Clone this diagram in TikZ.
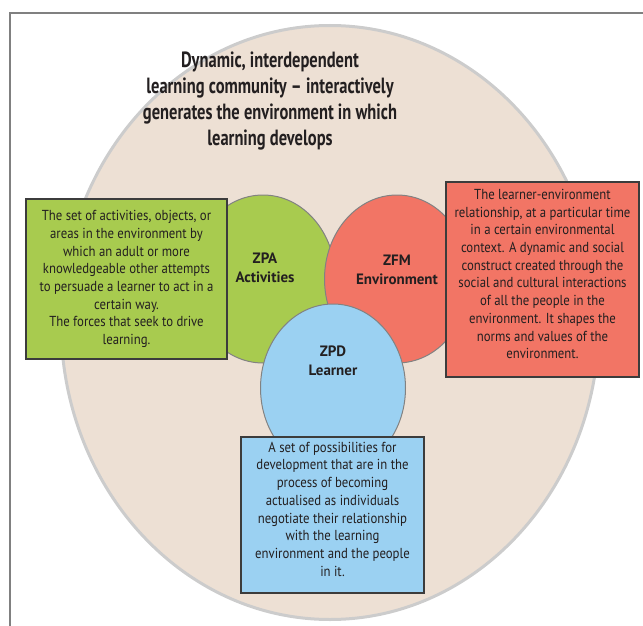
\documentclass[tikz,border=0pt]{standalone}
\usepackage{fontspec}
\setmainfont{PT Sans}
\newfontfamily\titlefont[FakeStretch=0.75]{PT Sans}
\newfontfamily\bodyfont[FakeStretch=0.88]{PT Sans}
\usetikzlibrary{shapes.geometric}
\definecolor{framegray}{RGB}{128,128,128}
\definecolor{bigfill}{RGB}{237,224,212}
\definecolor{bigline}{RGB}{204,204,204}
\definecolor{zpagreen}{RGB}{168,203,79}
\definecolor{zfmred}{RGB}{242,117,101}
\definecolor{zpdblue}{RGB}{155,209,242}
\definecolor{inktext}{RGB}{35,31,32}
\definecolor{boxline}{RGB}{60,60,60}
\definecolor{circline}{RGB}{130,130,130}
\tikzset{
  zone/.style={ellipse, draw=circline, line width=1pt, inner sep=0pt,
    minimum width=145pt, minimum height=168pt},
  infobox/.style={rectangle, draw=boxline, line width=1.3pt, inner sep=0pt,
    align=center, text=inktext, font=\bodyfont\fontsize{14.5}{17.7}\selectfont},
  zonelabel/.style={align=center, text=inktext,
    font=\bfseries\fontsize{15}{19}\selectfont},
}
\begin{document}
\begin{tikzpicture}[x=1pt,y=-1pt]
\useasboundingbox (0,0) rectangle (643,626);
\draw[framegray, line width=1.5pt] (643,13) -- (10,13) -- (10,626);
\node[ellipse, draw=bigline, fill=bigfill, line width=3pt, inner sep=0pt,
  minimum width=538pt, minimum height=594pt] (community) at (330,322.5) {};
\node[align=center, text=inktext, font=\titlefont\bfseries\fontsize{22}{26}\selectfont]
  (title) at (270,101) {Dynamic, interdependent\\learning community – interactively\\generates the environment in which\\learning develops};
\node[zone, fill=zpagreen] (zpa) at (263,279) {};
\node[zone, fill=zfmred] (zfm) at (397,279) {};
\node[zone, fill=zpdblue] (zpd) at (333,388) {};
\node[zonelabel] (zpalabel) at (265,268) {ZPA\\Activities};
\node[zonelabel] (zfmlabel) at (397,270) {ZFM\\Environment};
\node[zonelabel] (zpdlabel) at (333,361) {ZPD\\Learner};
\node[infobox, fill=zpagreen, minimum width=201pt, minimum height=160pt] (zpabox) at (126.5,279)
  {The set of activities, objects, or\\areas in the environment by\\which an adult or more\\knowledgeable other attempts\\to persuade a learner to act in a\\certain way.\\The forces that seek to drive\\learning.};
\node[infobox, fill=zfmred, minimum width=193pt, minimum height=195pt, text depth=11pt] (zfmbox) at (542.5,279.5)
  {The learner-environment\\relationship, at a particular time\\in a certain environmental\\context. A dynamic and social\\construct created through the\\social and cultural interactions\\of all the people in the\\environment. It shapes the\\norms and values of the\\environment.};
\node[infobox, fill=zpdblue, minimum width=183pt, minimum height=156pt, text depth=12pt] (zpdbox) at (332.5,515)
  {A set of possibilities for\\development that are in the\\process of becoming\\actualised as individuals\\negotiate their relationship\\with the learning\\environment and the people\\in it.};
\end{tikzpicture}
\end{document}
